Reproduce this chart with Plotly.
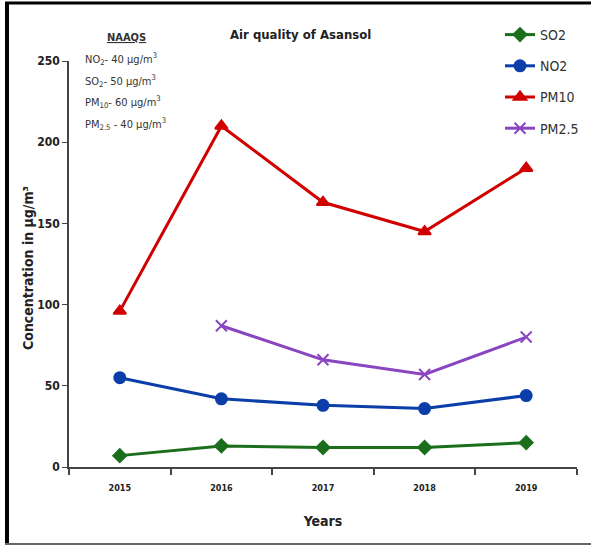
import plotly.graph_objects as go

years = ["2015", "2016", "2017", "2018", "2019"]
so2 = [7, 13, 12, 12, 15]
no2 = [55, 42, 38, 36, 44]
pm10 = [96, 210, 163, 145, 184]
pm25 = [None, 87, 66, 57, 80]

W, H = 591, 546
L, R, T, B = 69, 14, 61, 79
pw, ph = W - L - R, H - T - B

def px(x):
    return (x - L) / pw

def py(y):
    return (H - B - y) / ph

font = "Liberation Sans Narrow, DejaVu Sans Condensed, Liberation Sans, sans-serif"

fig = go.Figure()
series = [
    ("SO2", so2, "#1b6e1b", "diamond", 10),
    ("NO2", no2, "#0b3ea8", "circle", 11),
    ("PM10", pm10, "#d00000", "triangle-up", 11),
    ("PM2.5", pm25, "#8a45c0", "x-thin", 11),
]
for name, vals, col, sym, sz in series:
    fig.add_trace(go.Scatter(
        x=years, y=vals, name=name, mode="lines+markers", legendgroup=name,
        line=dict(color=col, width=3),
        marker=dict(symbol=sym, size=sz, color=col, line=dict(color=col, width=2)),
    ))

fig.update_layout(
    width=W, height=H,
    margin=dict(l=L, r=R, t=T, b=B, autoexpand=False),
    paper_bgcolor="white", plot_bgcolor="white",
    font=dict(family=font, color="#222"),
    showlegend=True,
    legend=dict(x=px(500), y=py(19), xanchor="left", yanchor="top",
                font=dict(size=14, color="#333", family=font),
                tracegroupgap=10, itemwidth=30, bgcolor="rgba(0,0,0,0)"),
    xaxis=dict(type="category", range=[-0.5, 4.5], showline=True, linecolor="#444", linewidth=2,
               ticks="outside", tickson="boundaries", ticklen=6, tickcolor="#444", tickwidth=1.5,
               tickfont=dict(size=9, family=font, color="#222", weight="bold"),
               ticklabelstandoff=11,
               showgrid=False, zeroline=False, automargin=False,
               title=dict(text="<b>Years</b>", font=dict(size=14, family=font, color="#222"), standoff=24)),
    yaxis=dict(range=[0, 250], dtick=50, showline=True, linecolor="#444", linewidth=1.5,
               ticks="outside", ticklen=5, tickcolor="#444",
               tickfont=dict(size=12, family=font, color="#222", weight="bold"),
               showgrid=False, zeroline=False, automargin=False),
)

fig.add_annotation(text="<b>Concentration in µg/m³</b>", xref="paper", yref="paper",
                   x=px(28), y=py(268), xanchor="center", yanchor="middle", textangle=-90, showarrow=False,
                   font=dict(size=14, family=font, color="#222"))

fig.add_annotation(text="<b>Air quality of Asansol</b>", xref="paper", yref="paper",
                   x=px(300), y=py(35), xanchor="center", yanchor="middle", showarrow=False,
                   font=dict(size=13, family=font, color="#222"))

naaqs = [
    ("<u><b>NAAQS</b></u>", 38),
    ("NO<sub>2</sub>- 40 µg/m<sup>3</sup>", 59),
    ("SO<sub>2</sub>- 50 µg/m<sup>3</sup>", 81),
    ("PM<sub>10</sub>- 60 µg/m<sup>3</sup>", 102),
    ("PM<sub>2.5</sub> - 40 µg/m<sup>3</sup>", 124),
]
for i, (txt, yy) in enumerate(naaqs):
    fig.add_annotation(text=txt, xref="paper", yref="paper",
                       x=px(126) if i == 0 else px(83), y=py(yy),
                       xanchor="center" if i == 0 else "left", yanchor="middle",
                       showarrow=False, font=dict(size=11, family=font, color="#333"))

# outer frame
fig.add_shape(type="line", xref="paper", yref="paper", x0=px(5), x1=px(591), y0=py(3), y1=py(3),
              line=dict(color="black", width=3))
fig.add_shape(type="line", xref="paper", yref="paper", x0=px(7), x1=px(7), y0=py(3), y1=py(545),
              line=dict(color="black", width=4))
fig.add_shape(type="line", xref="paper", yref="paper", x0=px(5), x1=px(591), y0=py(544), y1=py(544),
              line=dict(color="#666", width=2))

fig.write_html("out.html", config={"displayModeBar": False},
               post_script="document.body.style.margin='0';")
